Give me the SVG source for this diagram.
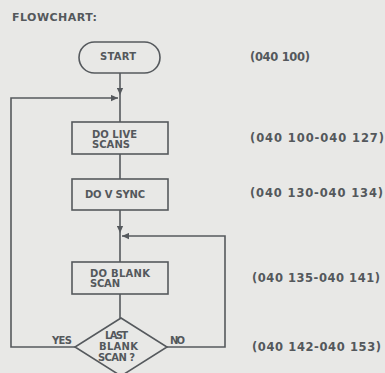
<svg xmlns="http://www.w3.org/2000/svg" width="385" height="373" viewBox="0 0 385 373">
<style>
.bg{fill:#e8e8e6}
.shape{fill:none;stroke:#55595d;stroke-width:1.6}
.conn{fill:none;stroke:#55595d;stroke-width:1.6}
text{font-family:"DejaVu Sans","Liberation Sans",sans-serif;font-weight:bold;fill:#54585c;font-size:10px}
.lbl{font-size:11.5px}
.ttl{font-size:11px}
</style>
<defs>
<marker id="arr" viewBox="0 0 10 10" refX="10" refY="5" markerWidth="7" markerHeight="7" markerUnits="userSpaceOnUse" orient="auto">
<path d="M0,0.5 L10,5 L0,9.5 z" fill="#55595d"/>
</marker>
</defs>
<rect class="bg" x="0" y="0" width="385" height="373"/>
<text class="ttl" x="12" y="21" textLength="85" lengthAdjust="spacing">FLOWCHART:</text>
<g id="connectors">
<path class="conn" d="M120,73 V95" marker-end="url(#arr)"/>
<path class="conn" d="M120,95 V122"/>
<path class="conn" d="M120,154 V179"/>
<path class="conn" d="M120,210 V233" marker-end="url(#arr)"/>
<path class="conn" d="M120,233 V262"/>
<path class="conn" d="M120,294 V318"/>
<path class="conn" d="M75,347 H11 V98 H118" marker-end="url(#arr)"/>
<path class="conn" d="M167,347 H225 V236 H122" marker-end="url(#arr)"/>
</g>
<g id="start">
<rect class="shape" x="79" y="42" width="81" height="31" rx="15.5"/>
<text x="100" y="60" textLength="36" lengthAdjust="spacing">START</text>
</g>
<g id="live">
<rect class="shape" x="72" y="122" width="96" height="32"/>
<text x="92" y="138" textLength="45" lengthAdjust="spacing">DO LIVE</text>
<text x="92" y="148" textLength="38" lengthAdjust="spacing">SCANS</text>
</g>
<g id="vsync">
<rect class="shape" x="72" y="179" width="96" height="31"/>
<text x="85" y="198" textLength="60" lengthAdjust="spacing">DO V SYNC</text>
</g>
<g id="blank">
<rect class="shape" x="72" y="262" width="96" height="32"/>
<text x="90" y="277" textLength="60" lengthAdjust="spacing">DO BLANK</text>
<text x="90" y="287" textLength="30" lengthAdjust="spacing">SCAN</text>
</g>
<g id="decision">
<polygon class="shape" points="121,318 167,347 121,376 75,347"/>
<text x="105" y="339" textLength="23" lengthAdjust="spacing">LAST</text>
<text x="99" y="350" textLength="39" lengthAdjust="spacing">BLANK</text>
<text x="98" y="361" textLength="37" lengthAdjust="spacing">SCAN ?</text>
<text x="52" y="344" textLength="20" lengthAdjust="spacing">YES</text>
<text x="170" y="344" textLength="15" lengthAdjust="spacing">NO</text>
</g>
<g id="labels">
<text class="lbl" x="250" y="61" textLength="60" lengthAdjust="spacing">(040 100)</text>
<text class="lbl" x="250" y="142" textLength="134" lengthAdjust="spacing">(040  100-040  127)</text>
<text class="lbl" x="250" y="197" textLength="133" lengthAdjust="spacing">(040  130-040  134)</text>
<text class="lbl" x="252" y="282" textLength="128" lengthAdjust="spacing">(040 135-040 141)</text>
<text class="lbl" x="252" y="351" textLength="129" lengthAdjust="spacing">(040 142-040 153)</text>
</g>
</svg>
